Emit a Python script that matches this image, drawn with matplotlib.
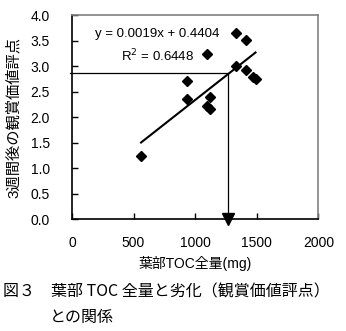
import numpy as np
import matplotlib.pyplot as plt

plt.rcParams["font.family"] = ["Liberation Sans", "Noto Sans CJK JP", "DejaVu Sans"]

toc = [561, 932, 932, 1095, 1095, 1122, 1122, 1331, 1333, 1412, 1415, 1470, 1490]
score = [1.24, 2.72, 2.36, 3.245, 2.23, 2.39, 2.17, 3.66, 3.00, 3.51, 2.92, 2.80, 2.75]

slope = 0.0019
intercept = 0.4404
r2 = 0.6448
fit_x = [561, 1490]
thresh_x = 1268
thresh_y = 2.87

fig = plt.figure(figsize=(3.46, 3.31), dpi=100)
ax = fig.add_axes([0.208, 0.3375, 0.712, 0.616])

ax.plot(toc, score, linestyle="none", marker="D", markersize=5, color="black", zorder=3)
fx = np.array(fit_x)
ax.plot(fx, slope * fx + intercept, color="black", linewidth=1.5)

# 基準線
ax.plot([-15, thresh_x, thresh_x], [thresh_y, thresh_y, 0], color="black", linewidth=0.9, clip_on=False)
ax.plot([thresh_x], [0], marker="v", markersize=9, color="black", clip_on=False, zorder=5)

ax.text(695, 3.64, "y = 0.0019x + 0.4404", fontsize=9.5, ha="center", va="center")
ax.text(695, 3.2, "R$^2$ = 0.6448", fontsize=9.5, ha="center", va="center")

ax.set_xlim(0, 2000)
ax.set_ylim(0, 4)
ax.set_xticks([0, 500, 1000, 1500, 2000])
ax.set_yticks(np.arange(0, 4.01, 0.5))
ax.set_yticklabels([f"{v:.1f}" for v in np.arange(0, 4.01, 0.5)])
ax.tick_params(direction="in", length=4, labelsize=10, width=1)
ax.tick_params(axis="x", pad=12)
ax.tick_params(axis="y", pad=16)
for s in ["left", "bottom"]:
    ax.spines[s].set_linewidth(1.2)
for s in ["top", "right"]:
    ax.spines[s].set_color("#808080")
    ax.spines[s].set_linewidth(1.2)

ax.set_xlabel("葉部TOC全量(mg)", fontsize=10, labelpad=4)
ax.set_ylabel("3週間後の観賞価値評点", fontsize=11, labelpad=7)

fig.text(0.01, 0.118, "図３　葉部 TOC 全量と劣化（観賞価値評点）", fontsize=11.5,
         family=["Noto Sans CJK JP", "DejaVu Sans"], va="center", ha="left")
fig.text(0.145, 0.042, "との関係", fontsize=11.5,
         family=["Noto Sans CJK JP", "DejaVu Sans"], va="center", ha="left")

fig.savefig("out.png", dpi=100)
